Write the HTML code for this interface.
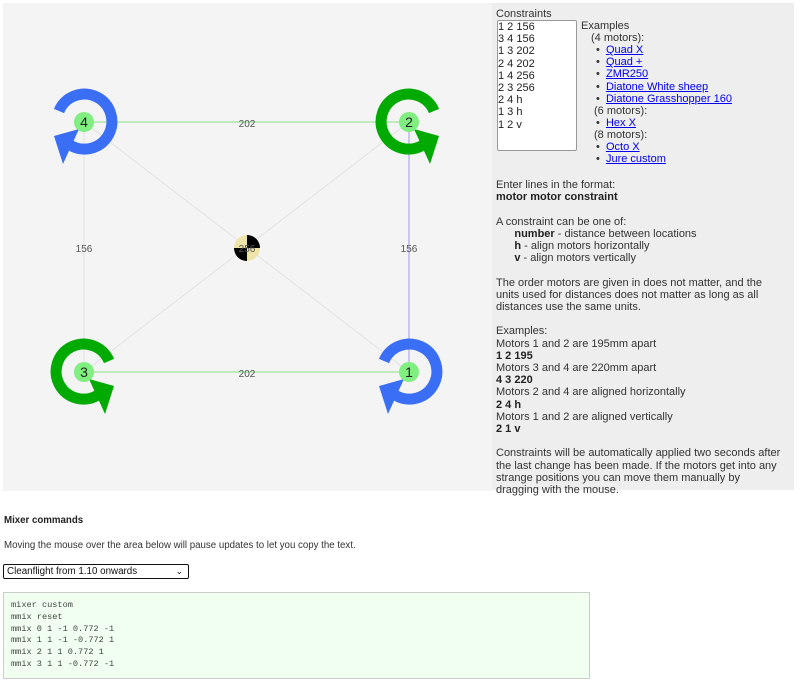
<!DOCTYPE html>
<html><head><meta charset="utf-8"><style>
body{margin:0;width:800px;height:682px;background:#fff;font-family:"Liberation Sans",sans-serif;color:#333;position:relative;overflow:hidden}
.a{position:absolute;font-size:11px;line-height:12.2px;white-space:nowrap}
#panel{position:absolute;left:492px;top:3px;width:302px;height:487px;background:#eee}
a{color:#00e;text-decoration:underline}
b{color:#222}
</style></head><body>
<svg style="position:absolute;left:0;top:0" width="492" height="492">
<rect x="3" y="3" width="489" height="488" fill="#f4f4f4"/>
<g stroke-width="1">
<line x1="84" y1="122" x2="409" y2="372" stroke="#e2e2e2"/>
<line x1="409" y1="122" x2="84" y2="372" stroke="#e2e2e2"/>
<line x1="84" y1="122" x2="84" y2="372" stroke="#e2e2e2"/>
<line x1="84" y1="122" x2="409" y2="122" stroke="#88e088"/>
<line x1="84" y1="372" x2="409" y2="372" stroke="#88e088"/>
<line x1="409" y1="122" x2="409" y2="372" stroke="#9c9ce8"/>
</g>
<g font-family="Liberation Sans,sans-serif" font-size="10" fill="#555" text-anchor="middle">
<text x="247" y="127">202</text><text x="247" y="377">202</text>
<text x="84" y="252">156</text><text x="409" y="252">156</text>
</g>
<g transform="translate(247,248)">
<circle r="13" fill="#efe4a8"/>
<path d="M0,0 L0,-13 A13,13 0 0 1 13,0 Z" fill="#000"/>
<path d="M0,0 L0,13 A13,13 0 0 1 -13,0 Z" fill="#000"/>
<text y="4" font-family="Liberation Sans,sans-serif" font-size="10" fill="#555" text-anchor="middle">256</text>
</g>
<defs>
<g id="ccw"><path d="M-25,-11 A27.5,27.5 0 1 1 -14,23" fill="none" stroke="#3a6ff5" stroke-width="11"/><polygon points="-30,14 -5,7 -21,42" fill="#3a6ff5"/></g>
<g id="cw"><path d="M25,-11 A27.5,27.5 0 1 0 14,23" fill="none" stroke="#00aa00" stroke-width="11"/><polygon points="30,14 5,7 21,42" fill="#00aa00"/></g>
</defs>
<use href="#ccw" x="84" y="122"/><use href="#cw" x="409" y="122"/>
<use href="#cw" x="84" y="372"/><use href="#ccw" x="409" y="372"/>
<g font-family="Liberation Sans,sans-serif" font-size="14" fill="#222" text-anchor="middle">
<circle cx="84" cy="122" r="10" fill="#80ee80"/><text x="84" y="127">4</text>
<circle cx="409" cy="122" r="10" fill="#80ee80"/><text x="409" y="127">2</text>
<circle cx="84" cy="372" r="10" fill="#80ee80"/><text x="84" y="377">3</text>
<circle cx="409" cy="372" r="10" fill="#80ee80"/><text x="409" y="377">1</text>
</g>
</svg>
<div id="panel"></div>
<div class="a" style="left:496px;top:8px">Constraints</div>
<div style="position:absolute;left:497px;top:20px;width:78px;height:129px;background:#fff;border:1px solid #999;border-radius:2px"></div>
<div class="a" style="left:498px;top:21px;color:#222">1 2 156<br>3 4 156<br>1 3 202<br>2 4 202<br>1 4 256<br>2 3 256<br>2 4 h<br>1 3 h<br>1 2 v</div>
<div class="a" style="left:581px;top:20px">Examples</div>
<div class="a" style="left:591px;top:32px">(4 motors):</div>
<div class="a" style="left:596px;top:44px">•&nbsp; <a>Quad X</a><br>•&nbsp; <a>Quad +</a><br>•&nbsp; <a>ZMR250</a><br>•&nbsp; <a>Diatone White sheep</a><br>•&nbsp; <a>Diatone Grasshopper 160</a></div>
<div class="a" style="left:594px;top:105px">(6 motors):</div>
<div class="a" style="left:596px;top:117px">•&nbsp; <a>Hex X</a></div>
<div class="a" style="left:594px;top:129px">(8 motors):</div>
<div class="a" style="left:596px;top:141px">•&nbsp; <a>Octo X</a><br>•&nbsp; <a>Jure custom</a></div>
<div class="a" style="left:496px;top:179px">Enter lines in the format:<br><b>motor motor constraint</b><br><br>A constraint can be one of:<br>&nbsp; &nbsp; &nbsp; <b>number</b> - distance between locations<br>&nbsp; &nbsp; &nbsp; <b>h</b> - align motors horizontally<br>&nbsp; &nbsp; &nbsp; <b>v</b> - align motors vertically<br><br>The order motors are given in does not matter, and the<br>units used for distances does not matter as long as all<br>distances use the same units.<br><br>Examples:<br>Motors 1 and 2 are 195mm apart<br><b>1 2 195</b><br>Motors 3 and 4 are 220mm apart<br><b>4 3 220</b><br>Motors 2 and 4 are aligned horizontally<br><b>2 4 h</b><br>Motors 1 and 2 are aligned vertically<br><b>2 1 v</b><br><br>Constraints will be automatically applied two seconds after<br>the last change has been made. If the motors get into any<br>strange positions you can move them manually by<br>dragging with the mouse.</div>
<div class="a" style="left:4px;top:515px;font-size:9.7px;font-weight:bold;color:#222">Mixer commands</div>
<div class="a" style="left:4px;top:540px;font-size:9.7px">Moving the mouse over the area below will pause updates to let you copy the text.</div>
<div style="position:absolute;left:3px;top:564px;width:181px;height:13px;border:1px solid #111;border-radius:2px;background:#fff;font-size:9.8px;line-height:13px;padding-left:3px;color:#111">Cleanflight from 1.10 onwards<span style="position:absolute;right:5px;top:0;font-size:9px">&#8964;</span></div>
<div style="position:absolute;left:3px;top:592px;width:585px;height:85px;background:#f0fff0;border:1px solid #ccc"></div>
<div class="a" style="left:11px;top:600px;font-family:'Liberation Mono',monospace;font-size:8.6px;line-height:11.8px;color:#444">mixer custom<br>mmix reset<br>mmix 0 1 -1 0.772 -1<br>mmix 1 1 -1 -0.772 1<br>mmix 2 1 1 0.772 1<br>mmix 3 1 1 -0.772 -1</div>
</body></html>
